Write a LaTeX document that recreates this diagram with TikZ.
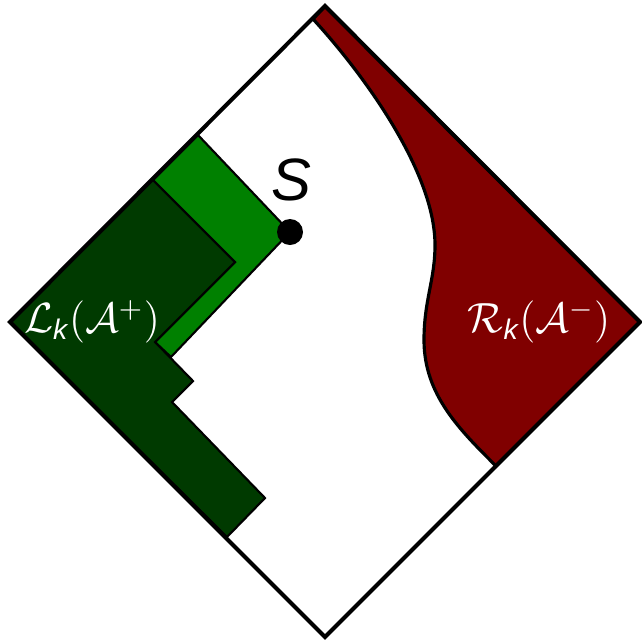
\documentclass[tikz,border=0pt]{standalone}
\usepackage{amsmath}
\usepackage{fontspec}
\setsansfont{Liberation Sans}
\definecolor{lkdark}{RGB}{0,58,0}
\definecolor{lklight}{RGB}{0,128,0}
\definecolor{rkred}{RGB}{128,0,0}
\begin{document}
\begin{tikzpicture}[
  x=0.01cm, y=-0.01cm,
  diamondline/.style = {line width=1.15pt, line join=miter},
  lklightreg/.style = {fill=lklight, draw=black, line width=0.6pt},
  lkdarkreg/.style = {fill=lkdark, draw=black, line width=0.6pt},
  rkreg/.style = {fill=rkred, draw=black, line width=0.9pt},
  reglbl/.style = {text=white, font=\fontsize{11.5}{12}\selectfont, inner sep=0pt}
]
  \useasboundingbox (0,0) rectangle (642,641);
  % Ecken der Raute
  \coordinate (top) at (325,6);
  \coordinate (left) at (10,322);
  \coordinate (right) at (640,322);
  \coordinate (bottom) at (325,637);
  \coordinate (S) at (290,232);
  % L_k(A^+), hell
  \draw[lklightreg] (153,180) -- (198,135) -- (S) -- (171,357)
    -- (155,342) -- (235,262) -- cycle;
  % L_k(A^+), dunkel
  \draw[lkdarkreg] (left) -- (153,180) -- (235,262) -- (155,342)
    -- (193,381) -- (172,402) -- (265,498) -- (227,537) -- cycle;
  % R_k(A^-)
  \draw[rkreg] (313,19) -- (top) -- (right) -- (496,466)
    .. controls (460,430) and (424,395) .. (424,340)
    .. controls (424,300) and (435,280) .. (435,245)
    .. controls (435,170) and (360,70) .. (313,19);
  % Raute
  \draw[diamondline] (top) -- (right) -- (bottom) -- (left) -- cycle;
  % Punkt S
  \fill (S) circle (13);
  \node[font=\fontsize{17}{19}\selectfont\sffamily\itshape, inner sep=0pt] (Slabel) at (291,180) {S};
  % Beschriftungen
  \node[reglbl] (Llabel) at (92,322) {$\mathcal{L}_{\textsf{\itshape k}}(\mathcal{A}^+)$};
  \node[reglbl] (Rlabel) at (539,322) {$\mathcal{R}_{\textsf{\itshape k}}(\mathcal{A}^-)$};
\end{tikzpicture}
\end{document}
